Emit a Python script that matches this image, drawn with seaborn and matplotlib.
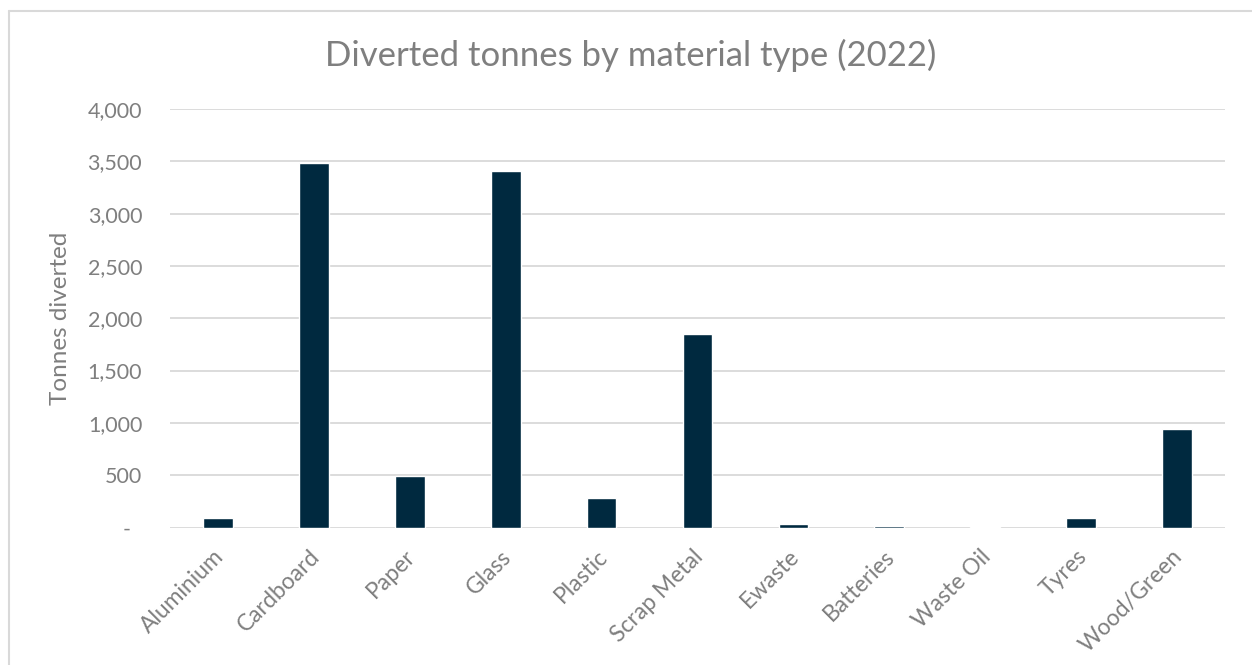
import matplotlib
matplotlib.use("Agg")
import matplotlib.pyplot as plt
import matplotlib.ticker as mticker
import matplotlib.transforms as mtransforms
from matplotlib.lines import Line2D
import seaborn as sns
import pandas as pd

materials = ["Aluminium", "Cardboard", "Paper", "Glass", "Plastic", "Scrap Metal",
             "Ewaste", "Batteries", "Waste Oil", "Tyres", "Wood/Green"]
tonnes = [88, 3488, 494, 3408, 278, 1847, 30, 10, 3, 95, 946]
y_ticks = [0, 500, 1000, 1500, 2000, 2500, 3000, 3500, 4000]

title = "Diverted tonnes by material type (2022)"
y_label = "Tonnes diverted"

BAR = "#00293f"
TEXT = "#7f7f7f"
GRID = "#d9d9d9"

sns.set_theme(style="white")
plt.rcParams["font.family"] = ["Lato", "DejaVu Sans"]

df = pd.DataFrame({"material": materials, "tonnes": tonnes})

W, H = 1252, 665
fig = plt.figure(figsize=(W / 100, H / 100), dpi=100)
ax = fig.add_axes([170 / W, 1 - 527.5 / H, (1225 - 170) / W, (527.5 - 109) / H])

sns.barplot(data=df, x="material", y="tonnes", color=BAR, width=0.31,
            saturation=1, ax=ax, zorder=3)

ax.set_ylim(0, 4000)
ax.set_xlim(-0.5, len(materials) - 0.5)
ax.set_yticks(y_ticks)
ax.yaxis.set_major_formatter(mticker.FuncFormatter(
    lambda v, p: "-  " if v == 0 else f"{int(v):,}"))
ax.grid(axis="y", color=GRID, linewidth=1.3, zorder=0)
ax.grid(axis="x", visible=False)
for s in ax.spines.values():
    s.set_visible(False)

ax.tick_params(axis="y", length=0, pad=20, labelsize=15.5, labelcolor=TEXT)
ax.tick_params(axis="x", length=0, pad=6, labelsize=16.5, labelcolor=TEXT)
shift = mtransforms.ScaledTranslation(-5 / 100, -10 / 100, fig.dpi_scale_trans)
for lbl in ax.get_xticklabels():
    lbl.set_rotation(45)
    lbl.set_ha("right")
    lbl.set_rotation_mode("anchor")
    lbl.set_transform(lbl.get_transform() + shift)

ax.set_xlabel("")
ax.set_ylabel(y_label, fontsize=17.5, color=TEXT)
ax.yaxis.set_label_coords((71 - 170) / (1225 - 170), 0.5)

fig.text(0.504, 1 - 55 / H, title, ha="center", va="center",
         fontsize=25, color=TEXT)

# chart-area border (top and left edges)
fig.add_artist(Line2D([9 / W, 1], [1 - 10.5 / H, 1 - 10.5 / H],
                      transform=fig.transFigure, color=GRID, linewidth=1.5))
fig.add_artist(Line2D([9 / W, 9 / W], [0, 1 - 10.5 / H],
                      transform=fig.transFigure, color=GRID, linewidth=1.5))

fig.savefig("out.png", dpi=100, facecolor="white")
